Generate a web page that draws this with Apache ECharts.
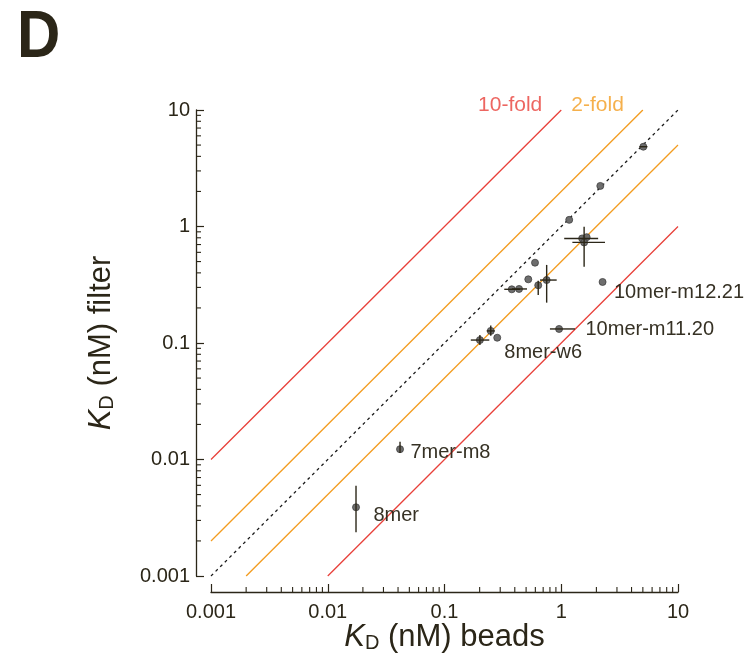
<!DOCTYPE html>
<html>
<head>
<meta charset="utf-8">
<script src="https://cdn.jsdelivr.net/npm/echarts@6/dist/echarts.min.js"></script>
<style>html,body{margin:0;padding:0;background:#fff;overflow:hidden;}#c{width:752px;height:657px;}</style>
</head>
<body>
<div id="c"></div>
<script>
// ---- data ----
const xBeads   = [5.05, 2.16, 1.17, 1.51, 1.65, 1.57, 0.596, 0.522, 0.377, 0.435, 0.635, 0.750, 2.26, 0.958, 0.249, 0.283, 0.201, 0.0416, 0.01746];
const yFilter  = [4.84, 2.23, 1.14, 0.79, 0.81, 0.73, 0.489, 0.352, 0.289, 0.291, 0.313, 0.347, 0.334, 0.132, 0.127, 0.111, 0.106, 0.01226, 0.00389];
const xErrLow  = [4.67, null, null, 1.06, null, 1.245, null, null, 0.325, 0.378, null, 0.658, null, 0.80, 0.230, null, 0.168, null, null];
const xErrHigh = [5.46, null, null, 2.07, null, 2.37, null, null, 0.443, 0.509, null, 0.914, null, 1.31, 0.269, null, 0.242, null, null];
const yErrLow  = [null, null, null, null, null, 0.452, null, null, null, null, 0.258, 0.222, null, null, 0.1155, null, 0.0961, 0.01135, 0.00237];
const yErrHigh = [null, null, null, null, null, 0.996, null, null, null, null, 0.343, 0.468, null, null, 0.141, null, 0.117, 0.01422, 0.00596];
const pointNames = ['', '', '', '', '', '', '', '', '', '', '', '', '10mer-m12.21', '10mer-m11.20', '', '', '8mer-w6', '7mer-m8', '8mer'];
const tickLabels = ['0.001', '0.01', '0.1', '1', '10'];
const axisMin = 0.001, axisMax = 10;
const identityLine = [[0.001, 0.001], [10, 10]];
const twoFoldUp    = [[0.001, 0.002], [5, 10]];
const twoFoldDown  = [[0.002, 0.001], [10, 5]];
const tenFoldUp    = [[0.001, 0.01], [1, 10]];
const tenFoldDown  = [[0.01, 0.001], [10, 1]];
const foldLabels = [{name: '10-fold', at: [1, 10]}, {name: '2-fold', at: [5, 10]}];

// minor tick values (2..9 per decade)
const minorVals = [];
for (let e = -3; e < 1; e++) for (let m = 2; m <= 9; m++) minorVals.push(+(m * Math.pow(10, e)).toPrecision(3));

// ---- styles ----
const INK = '#2b2618', RED = '#e8403a', ORANGE = '#f39c1f';
const FONT = '"Liberation Sans", Arial, Helvetica, sans-serif';
const X_OFF = 16, Y_OFF = 15, MAJOR_LEN = 8, MINOR_LEN = 5;
const labelOffsets = {
  '10mer-m12.21': [7.5, 11],
  '10mer-m11.20': [22.5, 1],
  '8mer-w6': [20.5, 12],
  '7mer-m8': [6.5, 3],
  '8mer': [13.5, 8]
};

const chart = echarts.init(document.getElementById('c'), null, {renderer: 'canvas', width: 752, height: 657});

const fmt = v => tickLabels[Math.round(Math.log10(v)) + 3] || '';
const nameRich = {
  k: {fontStyle: 'italic', fontSize: 31, fontFamily: FONT, color: INK},
  sub: {fontSize: 20, fontFamily: FONT, color: INK, verticalAlign: 'bottom', lineHeight: 20, padding: [17, 0, 0, 0]},
  t: {fontSize: 31, fontFamily: FONT, color: INK}
};

function refLine(data, color, dashed) {
  return {
    type: 'line', data: data, showSymbol: false, silent: true, animation: false,
    lineStyle: {color: color, width: 1.3, type: dashed ? [3, 3.5] : 'solid'}, z: 1
  };
}

const scatterData = xBeads.map((x, i) => {
  const item = {value: [x, yFilter[i]]};
  if (pointNames[i]) {
    item.label = {show: true, formatter: pointNames[i], position: 'right', distance: 0,
      offset: labelOffsets[pointNames[i]], color: INK, fontSize: 20, fontFamily: FONT};
  }
  return item;
});

const errData = xBeads.map((x, i) => [x, yFilter[i],
  xErrLow[i] == null ? x : xErrLow[i], xErrHigh[i] == null ? x : xErrHigh[i],
  yErrLow[i] == null ? yFilter[i] : yErrLow[i], yErrHigh[i] == null ? yFilter[i] : yErrHigh[i]]);

const option = {
  animation: false,
  backgroundColor: '#fff',
  grid: {left: 211, top: 110, width: 467, height: 466, containLabel: false, outerBoundsMode: 'none'},
  xAxis: {
    type: 'log', logBase: 10, min: axisMin, max: axisMax, offset: X_OFF,
    axisLine: {lineStyle: {color: INK, width: 1.3}},
    axisTick: {inside: true, length: MAJOR_LEN, lineStyle: {color: INK, width: 1.2}},
    axisLabel: {formatter: fmt, fontSize: 20, fontFamily: FONT, color: INK, margin: 10},
    splitLine: {show: false},
    name: '{k|K}{sub|D}{t| (nM) beads}', nameLocation: 'middle', nameGap: 30, nameMoveOverlap: false,
    nameTextStyle: {rich: nameRich}
  },
  yAxis: {
    type: 'log', logBase: 10, min: axisMin, max: axisMax, offset: Y_OFF,
    axisLine: {show: true, lineStyle: {color: INK, width: 1.3}},
    axisTick: {show: true, inside: true, length: MAJOR_LEN, lineStyle: {color: INK, width: 1.2}},
    axisLabel: {formatter: fmt, fontSize: 20, fontFamily: FONT, color: INK, margin: 6},
    splitLine: {show: false},
    name: '{k|K}{sub|D}{t| (nM) filter}', nameLocation: 'middle', nameGap: 79, nameRotate: 90, nameMoveOverlap: false,
    nameTextStyle: {rich: nameRich}
  },
  graphic: [{
    type: 'text', x: 17, y: 6, scaleY: 1.1,
    style: {text: 'D', fontSize: 60, fontWeight: 'bold', fontFamily: FONT, fill: INK, verticalAlign: 'top'}
  }],
  series: [
    refLine(tenFoldUp, RED), refLine(tenFoldDown, RED),
    refLine(twoFoldUp, ORANGE), refLine(twoFoldDown, ORANGE),
    refLine(identityLine, '#1a1a1a', true),
    {
      type: 'scatter', symbolSize: 0, silent: true, z: 2,
      data: foldLabels.map((f, i) => ({
        value: f.at,
        label: {show: true, formatter: f.name, position: 'left', distance: 19, offset: [0, -5],
          color: i === 0 ? RED : ORANGE, fontSize: 21, fontFamily: FONT}
      }))
    },
    {
      type: 'scatter', symbol: 'circle', symbolSize: 7, z: 3,
      itemStyle: {color: '#666', borderColor: '#3c3c3c', borderWidth: 0.8, opacity: 0.95},
      data: scatterData
    },
    {
      type: 'custom', z: 4, silent: true,
      data: errData,
      renderItem: function (params, api) {
        const y = api.value(1), x = api.value(0);
        const a = api.coord([api.value(2), y]), b = api.coord([api.value(3), y]);
        const c = api.coord([x, api.value(4)]), d = api.coord([x, api.value(5)]);
        const st = {stroke: INK, lineWidth: 1.4};
        const kids = [];
        if (Math.abs(b[0] - a[0]) > 0.5) kids.push({type: 'line', shape: {x1: a[0], y1: a[1], x2: b[0], y2: b[1]}, style: st});
        if (Math.abs(d[1] - c[1]) > 0.5) kids.push({type: 'line', shape: {x1: c[0], y1: c[1], x2: d[0], y2: d[1]}, style: st});
        return {type: 'group', children: kids};
      }
    },
    {
      type: 'custom', z: 4, silent: true, clip: false,
      data: minorVals,
      renderItem: function (params, api) {
        const v = api.value(0);
        const px = api.coord([v, axisMin]);
        const py = api.coord([axisMin, v]);
        const st = {stroke: INK, lineWidth: 1.1};
        const yb = px[1] + X_OFF, xl = py[0] - Y_OFF;
        return {type: 'group', children: [
          {type: 'line', shape: {x1: px[0], y1: yb, x2: px[0], y2: yb - MINOR_LEN}, style: st},
          {type: 'line', shape: {x1: xl, y1: py[1], x2: xl + MINOR_LEN, y2: py[1]}, style: st}
        ]};
      }
    }
  ]
};
chart.setOption(option);
</script>
</body>
</html>
